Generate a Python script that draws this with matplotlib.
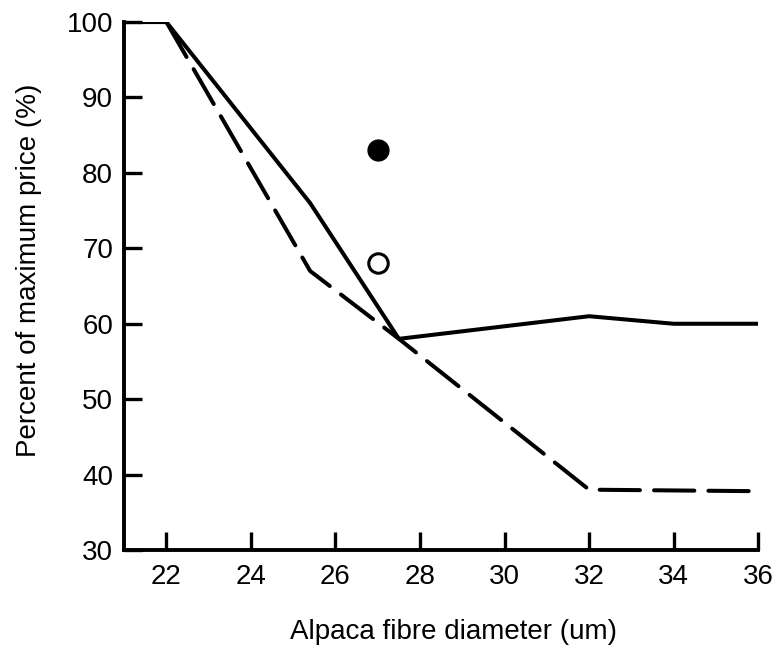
import matplotlib
matplotlib.use('Agg')
import matplotlib.pyplot as plt

plt.rcParams['font.family'] = ['Liberation Sans', 'DejaVu Sans']

# solid line
solid_x = [21, 22, 25.4, 27.5, 32, 34, 36]
solid_y = [100, 100, 76, 58, 61, 60, 60]
# dashed line
dash_x = [22, 25.4, 27.5, 32, 36]
dash_y = [100, 67, 58, 38, 37.8]
# single points
filled_pt = (27, 83)
open_pt = (27, 68)

xticks = [22, 24, 26, 28, 30, 32, 34, 36]
yticks = [30, 40, 50, 60, 70, 80, 90, 100]

fig = plt.figure(figsize=(7.76, 6.49), dpi=100)
ax = fig.add_axes([0.160, 0.1525, 0.817, 0.8135])

ax.plot(solid_x, solid_y, color='black', lw=2.9, solid_joinstyle='round')
ax.plot(dash_x, dash_y, color='black', lw=2.9, dashes=(10, 3.5), dash_capstyle='round')
ax.plot(*filled_pt, 'o', color='black', markersize=15)
ax.plot(*open_pt, 'o', markerfacecolor='white', markeredgecolor='black',
        markersize=14, markeredgewidth=2.2)

ax.set_xlim(21, 36)
ax.set_ylim(30, 100)
ax.set_xticks(xticks)
ax.set_yticks(yticks)

for s in ['top', 'right']:
    ax.spines[s].set_visible(False)
for s in ['left', 'bottom']:
    ax.spines[s].set_linewidth(2.8)

ax.tick_params(direction='in', length=13, width=2.4, labelsize=20, pad=10)
ax.tick_params(axis='y', pad=8)

fig.text(0.584, 0.026, 'Alpaca fibre diameter (um)', fontsize=20,
         ha='center', va='center')
fig.text(0.038, 1 - 270 / 649, 'Percent of maximum price (%)', fontsize=20,
         rotation=90, ha='center', va='center')

fig.savefig('out.png', dpi=100)
